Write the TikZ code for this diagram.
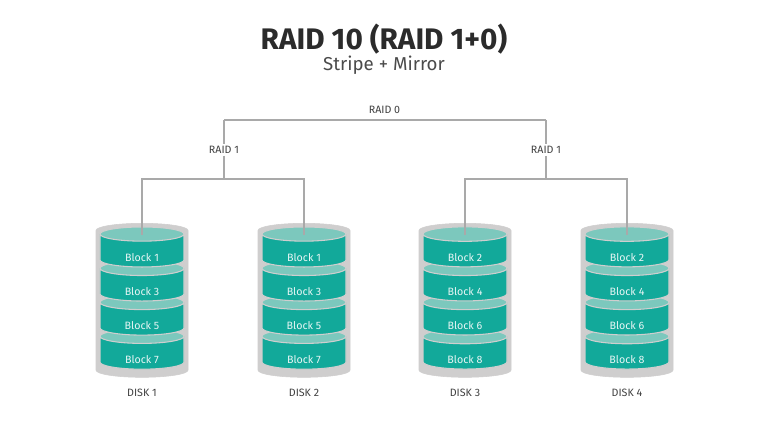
\documentclass[tikz,border=0pt]{standalone}
\usepackage{fontspec}
\setmainfont{Fira Sans}
\usepackage{tikz}
\usetikzlibrary{calc,positioning,shapes.geometric}
\definecolor{tealbody}{HTML}{12A99A}
\definecolor{tealtop}{HTML}{7CC8BD}
\definecolor{casegray}{HTML}{CFCECE}
\definecolor{linegray}{HTML}{A9A9A9}
\definecolor{inkdark}{HTML}{2B2B2B}
\newcommand{\blk}[1]{\raisebox{-8pt}[0pt][0pt]{#1}}

\begin{document}
\begin{tikzpicture}[x=0.75pt,y=-0.75pt,node distance=-5.25pt]
	\tikzstyle{cyl} = [cylinder, shape border rotate=90, shape aspect=0.42, inner sep=0pt, cylinder uses custom fill, font=\fontsize{8}{9}\selectfont]
	\tikzstyle{case} = [cyl, draw=casegray, minimum width=69pt, minimum height=115.5pt, cylinder body fill=casegray, cylinder end fill=casegray]
	\tikzstyle{block} = [cyl, draw=casegray, line width=0.8pt, minimum width=63pt, minimum height=30pt, cylinder body fill=tealbody, cylinder end fill=tealtop, text=white!90!tealbody]
	\tikzstyle{tag} = [font=\fontsize{8}{9}\selectfont, text=inkdark!90, inner sep=1.5pt]
	\tikzstyle{link} = [draw=linegray, line width=0.8pt]

	\path [use as bounding box, fill=white] (0,0) rectangle (768,431);

	\node [font=\bfseries\fontsize{22.3}{25}\selectfont, text=inkdark] (title) at (384,39) {RAID 10 (RAID 1+0)};
	\node [font=\fontsize{14}{16}\selectfont, text=inkdark!85] (subtitle) at (384,65) {Stripe + Mirror};

	% disk 1
	\node [case] (case1) at (142,304) {\blk{\phantom{Block 1}}};
	\node [block] (b1g) at (142,353) {\blk{Block 7}};
	\node [block, above = of b1g] (b1c) {\blk{Block 5}};
	\node [block, above = of b1c] (b1b) {\blk{Block 3}};
	\node [block, above = of b1b] (b1a) {\blk{Block 1}};
	\node [tag, below = 7pt of case1.south] (disk1) {DISK 1};

	% disk 2
	\node [case] (case2) at (304,304) {\blk{\phantom{Block 1}}};
	\node [block] (b2g) at (304,353) {\blk{Block 7}};
	\node [block, above = of b2g] (b2c) {\blk{Block 5}};
	\node [block, above = of b2c] (b2b) {\blk{Block 3}};
	\node [block, above = of b2b] (b2a) {\blk{Block 1}};
	\node [tag, below = 7pt of case2.south] (disk2) {DISK 2};

	% disk 3
	\node [case] (case3) at (465,304) {\blk{\phantom{Block 1}}};
	\node [block] (b3g) at (465,353) {\blk{Block 8}};
	\node [block, above = of b3g] (b3c) {\blk{Block 6}};
	\node [block, above = of b3c] (b3b) {\blk{Block 4}};
	\node [block, above = of b3b] (b3a) {\blk{Block 2}};
	\node [tag, below = 7pt of case3.south] (disk3) {DISK 3};

	% disk 4
	\node [case] (case4) at (627,304) {\blk{\phantom{Block 1}}};
	\node [block] (b4g) at (627,353) {\blk{Block 8}};
	\node [block, above = of b4g] (b4c) {\blk{Block 6}};
	\node [block, above = of b4c] (b4b) {\blk{Block 4}};
	\node [block, above = of b4b] (b4a) {\blk{Block 2}};
	\node [tag, below = 7pt of case4.south] (disk4) {DISK 4};

	\node [tag] (raid0) at (384.5,110) {RAID 0};
	\node [tag, fill=white] (raid1a) at (224,150) {RAID 1};
	\node [tag, fill=white] (raid1b) at (546,150) {RAID 1};

	\coordinate (c0a) at (224,120);
	\coordinate (c0b) at (546,120);
	\coordinate (c1a) at (224,179);
	\coordinate (c1b) at (546,179);
	\coordinate (d1) at (142,235);
	\coordinate (d2) at (304,235);
	\coordinate (d3) at (465,235);
	\coordinate (d4) at (627,235);

	\draw [link] (c0a) -- (c0b);
	\draw [link] (c0a) -- (raid1a);
	\draw [link] (c0b) -- (raid1b);
	\draw [link] (raid1a) -- (c1a);
	\draw [link] (raid1b) -- (c1b);
	\draw [link] (d1) |- (c1a) -| (d2);
	\draw [link] (d3) |- (c1b) -| (d4);

\end{tikzpicture}
\end{document}
